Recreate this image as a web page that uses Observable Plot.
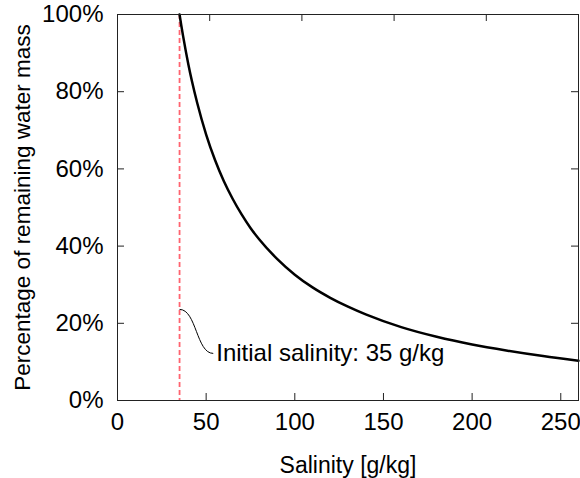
<!DOCTYPE html>
<html><head><meta charset="utf-8">
<script src="https://cdn.jsdelivr.net/npm/d3@7"></script>
<script src="https://cdn.jsdelivr.net/npm/@observablehq/plot@0.6"></script>
<style>body{margin:0;background:#fff}</style>
</head><body><div id="chart"></div>
<script>
// Salinity [g/kg] and percentage of remaining water mass
const salinity  = [35, 36, 37, 40, 42, 45, 50, 55, 60, 65, 70, 75, 80, 90, 100, 110, 120, 130, 140, 160, 180, 200, 220, 240, 260];
const remaining = [100, 97.1, 94.4, 87.0, 82.7, 77.0, 68.9, 62.3, 56.8, 52.2, 48.2, 44.7, 41.7, 36.7, 32.6, 29.3, 26.6, 24.3, 22.3, 19.0, 16.5, 14.5, 12.9, 11.5, 10.3];
const xTicks = [0, 50, 100, 150, 200, 250];
const yTicks = [0, 20, 40, 60, 80, 100];
const x2Ticks = [50, 100, 150, 200];
const xMax = 260, x2Max = 250, yMax = 100;
const initialSalinity = [35];
const annLabel = ["Initial salinity: 35 g/kg"];
const annFrom = [35, 23.6];
const annTo = [54, 12.2];

const W = 580, H = 478, mL = 117, mR = 2, mT = 14, mB = 78;
const fh = H - mT - mB, fw = W - mL - mR, tick = 7;
const data = salinity.map((s, i) => ({s, p: remaining[i]}));
const ann = [{label: annLabel[0], x1: annFrom[0], y1: annFrom[1], x2: annTo[0], y2: annTo[1]}];
const font = "'Liberation Sans', Arial, sans-serif";

const chart = Plot.plot({
  width: W, height: H, marginLeft: mL, marginRight: mR, marginTop: mT, marginBottom: mB,
  style: {fontFamily: font, fontSize: "24px", color: "black", background: "white"},
  x: {domain: [0, xMax]},
  y: {domain: [0, yMax]},
  marks: [
    Plot.axisX(xTicks, {tickSize: 0, tickPadding: 12, fontSize: 24, label: null}),
    Plot.axisX({ticks: [], tickSize: 0, fontSize: 23, label: "Salinity [g/kg]", labelAnchor: "center", labelArrow: "none", labelOffset: 72}),
    Plot.axisY(yTicks, {tickSize: 0, tickPadding: 14, fontSize: 24, tickFormat: d => d + "%", label: null}),
    Plot.axisY({ticks: [], tickSize: 0, fontSize: 22.5, label: "Percentage of remaining water mass", labelAnchor: "center", labelArrow: "none", labelOffset: 103}),
    Plot.ruleX(xTicks, {x: d => d, insetTop: fh - tick, stroke: "#222"}),
    Plot.ruleX(x2Ticks, {x: d => d * xMax / x2Max, insetBottom: fh - tick, stroke: "#222"}),
    Plot.ruleY(yTicks, {y: d => d, insetRight: fw - tick, stroke: "#222"}),
    Plot.ruleY(yTicks, {y: d => d, insetLeft: fw - tick, stroke: "#222"}),
    Plot.ruleX(initialSalinity, {x: d => d, stroke: "#ff6470", strokeDasharray: "5,3", strokeWidth: 1.8}),
    Plot.line(data, {x: "s", y: "p", curve: "monotone-x", stroke: "black", strokeWidth: 2.5}),
    Plot.link(ann, {x1: "x1", y1: "y1", x2: "x2", y2: "y2", curve: "bump-x", stroke: "black", strokeWidth: 1}),
    Plot.text(ann, {x: "x2", y: "y2", text: "label", textAnchor: "start", dx: 3, fontSize: 24, fill: "black"}),
    Plot.frame({stroke: "#222"})
  ]
});
document.getElementById("chart").appendChild(chart);
</script>
</body></html>
